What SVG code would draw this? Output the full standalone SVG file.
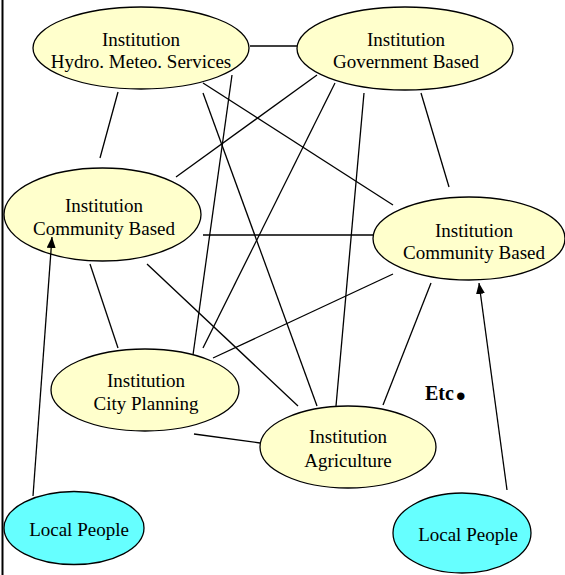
<svg xmlns="http://www.w3.org/2000/svg" width="565" height="575" viewBox="0 0 565 575">
  <style>
    .inst { fill: #FFFFCC; stroke: #000; stroke-width: 1.3; }
    .people { fill: #66FFFF; stroke: #000; stroke-width: 1.3; }
    .lbl { font-size: 19px; fill: #000; text-anchor: middle; }
    .link { stroke: #000; stroke-width: 1.3; fill: none; }
    .etc { font-weight: bold; font-size: 20px; fill: #000; }
  </style>
  <defs>
    <marker id="arrow" markerUnits="userSpaceOnUse" markerWidth="11" markerHeight="9" viewBox="0 0 11 9" refX="11" refY="4.5" orient="auto">
      <path d="M0,0 L11,4.5 L0,9 Z" fill="#000"/>
    </marker>
  </defs>
  <rect width="565" height="575" fill="#fff"/>
  <!-- left frame edge -->
  <line x1="2.5" y1="0" x2="2.5" y2="575" stroke="#000" stroke-width="2"/>

  <g font-family="Liberation Serif, Times New Roman, serif">
    <g id="hydro-meteo">
      <ellipse class="inst" cx="141" cy="48" rx="108" ry="41"/>
      <text class="lbl" x="141" y="46">Institution</text>
      <text class="lbl" x="141" y="68">Hydro. Meteo. Services</text>
    </g>
    <g id="government">
      <ellipse class="inst" cx="405" cy="48.5" rx="108" ry="41.5"/>
      <text class="lbl" x="406" y="46">Institution</text>
      <text class="lbl" x="406" y="68">Government Based</text>
    </g>
    <g id="community-left">
      <ellipse class="inst" cx="102.5" cy="214.5" rx="98.5" ry="46.5"/>
      <text class="lbl" x="104" y="212">Institution</text>
      <text class="lbl" x="104" y="235">Community Based</text>
    </g>
    <g id="community-right">
      <ellipse class="inst" cx="469" cy="238.5" rx="96" ry="41.5"/>
      <text class="lbl" x="474" y="237">Institution</text>
      <text class="lbl" x="474" y="259">Community Based</text>
    </g>
    <g id="city-planning">
      <ellipse class="inst" cx="145" cy="390" rx="94" ry="41"/>
      <text class="lbl" x="146" y="387">Institution</text>
      <text class="lbl" x="146" y="410">City Planning</text>
    </g>
    <g id="agriculture">
      <ellipse class="inst" cx="348" cy="447" rx="88" ry="41"/>
      <text class="lbl" x="348" y="443">Institution</text>
      <text class="lbl" x="348" y="467">Agriculture</text>
    </g>
    <g id="people-left">
      <ellipse class="people" cx="74" cy="528" rx="70" ry="36.5"/>
      <text class="lbl" x="79" y="536">Local People</text>
    </g>
    <g id="people-right">
      <ellipse class="people" cx="462" cy="533" rx="69" ry="40"/>
      <text class="lbl" x="468" y="541">Local People</text>
    </g>

    <text class="etc" x="425" y="400">Etc<tspan font-size="46" dx="1">.</tspan></text>
  </g>

  <g id="connectors">
    <line class="link" x1="250" y1="46" x2="297" y2="46"/>
    <line class="link" x1="118" y1="92" x2="100" y2="158"/>
    <line class="link" x1="203" y1="83" x2="393" y2="205"/>
    <line class="link" x1="203" y1="93" x2="317" y2="406"/>
    <line class="link" x1="232" y1="75" x2="193" y2="355"/>
    <line class="link" x1="317" y1="75" x2="176" y2="177"/>
    <line class="link" x1="335" y1="83" x2="203" y2="348"/>
    <line class="link" x1="364" y1="93" x2="336" y2="406"/>
    <line class="link" x1="421" y1="93" x2="449" y2="187"/>
    <line class="link" x1="203" y1="235" x2="373" y2="235"/>
    <line class="link" x1="90" y1="264" x2="118" y2="348"/>
    <line class="link" x1="147" y1="264" x2="298" y2="406"/>
    <line class="link" x1="213" y1="358" x2="393" y2="274"/>
    <line class="link" x1="194" y1="434" x2="260" y2="443"/>
    <line class="link" x1="383" y1="405" x2="431" y2="283"/>
    <line class="link" x1="33" y1="496" x2="52" y2="237" marker-end="url(#arrow)"/>
    <line class="link" x1="507" y1="490" x2="479" y2="283" marker-end="url(#arrow)"/>
  </g>
</svg>
